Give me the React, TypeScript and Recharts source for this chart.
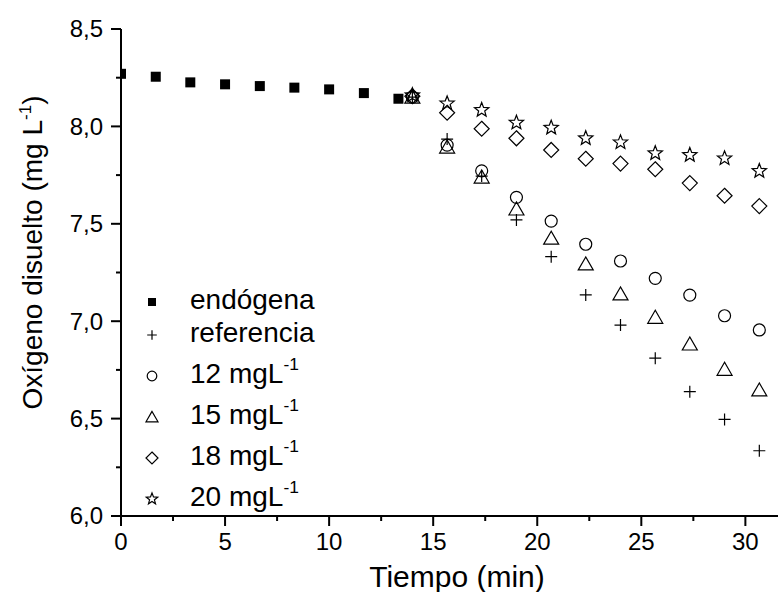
import React from "react";
import { ScatterChart, Scatter, XAxis, YAxis, Legend } from "recharts";

const FONT = '"Liberation Sans", Arial, Helvetica, sans-serif';

// endogenous respiration, before dosing (min / mg L-1)
const tEndogena = [0, 1.67, 3.33, 5, 6.67, 8.33, 10, 11.67, 13.33];
const endogena = [8.27, 8.255, 8.226, 8.216, 8.207, 8.199, 8.19, 8.171, 8.142];

// after dosing
const tDosis = [14, 15.67, 17.33, 19, 20.67, 22.33, 24, 25.67, 27.33, 29, 30.67];
const referencia = [8.15, 7.935, 7.745, 7.52, 7.331, 7.135, 6.98, 6.81, 6.638, 6.496, 6.335];
const mg12 = [8.15, 7.904, 7.772, 7.636, 7.514, 7.395, 7.309, 7.22, 7.134, 7.028, 6.955];
const mg15 = [8.15, 7.894, 7.74, 7.576, 7.426, 7.294, 7.14, 7.02, 6.883, 6.753, 6.647];
const mg18 = [8.155, 8.07, 7.988, 7.939, 7.879, 7.834, 7.809, 7.78, 7.709, 7.644, 7.591];
const mg20 = [8.16, 8.118, 8.084, 8.019, 7.993, 7.939, 7.918, 7.862, 7.853, 7.836, 7.771];

const seriesNames = ["endógena", "referencia", "12 mgL", "15 mgL", "18 mgL", "20 mgL"];
const seriesKinds = ["square", "plus", "circle", "triangle", "diamond", "star"];

const xTicks = [0, 2.5, 5, 7.5, 10, 12.5, 15, 17.5, 20, 22.5, 25, 27.5, 30];
const yTicks = [6, 6.25, 6.5, 6.75, 7, 7.25, 7.5, 7.75, 8, 8.25, 8.5];
const topTicks = [3.2, 6.4, 9.6, 12.8, 16, 19.2, 22.4, 25.6, 28.8];

const zip = (xs: number[], ys: number[]) => xs.map((x, i) => ({ x, y: ys[i] }));

const seriesData = [
  zip(tEndogena, endogena),
  zip(tDosis, referencia),
  zip(tDosis, mg12),
  zip(tDosis, mg15),
  zip(tDosis, mg18),
  zip(tDosis, mg20),
];

function Marker({ kind, cx, cy, s = 1 }: { kind: string; cx: number; cy: number; s?: number }) {
  const st = { fill: "none", stroke: "#000", strokeWidth: 1.2 };
  switch (kind) {
    case "square":
      return <rect x={cx - 5 * s} y={cy - 5 * s} width={10 * s} height={10 * s} fill="#000" />;
    case "plus":
      return (
        <path
          d={`M${cx - 6 * s},${cy}H${cx + 6 * s}M${cx},${cy - 6 * s}V${cy + 6 * s}`}
          {...st}
        />
      );
    case "circle":
      return <circle cx={cx} cy={cy} r={6 * s} {...st} />;
    case "triangle":
      return (
        <polygon
          points={`${cx},${cy - 7 * s} ${cx - 7.5 * s},${cy + 6 * s} ${cx + 7.5 * s},${cy + 6 * s}`}
          {...st}
        />
      );
    case "diamond":
      return (
        <polygon
          points={`${cx},${cy - 7.5 * s} ${cx + 7.5 * s},${cy} ${cx},${cy + 7.5 * s} ${cx - 7.5 * s},${cy}`}
          {...st}
        />
      );
    default: {
      // 5-point outline star
      const pts: string[] = [];
      for (let i = 0; i < 10; i++) {
        const r = (i % 2 === 0 ? 7.5 : 3.2) * s;
        const a = -Math.PI / 2 + (i * Math.PI) / 5;
        pts.push(`${cx + r * Math.cos(a)},${cy + r * Math.sin(a)}`);
      }
      return <polygon points={pts.join(" ")} {...st} />;
    }
  }
}

const fmtComma = (v: number) => v.toFixed(1).replace(".", ",");

function YTick(props: any) {
  const { x, y, payload } = props;
  const v = payload.value as number;
  const major = Math.abs(v * 2 - Math.round(v * 2)) < 1e-6;
  return (
    <g>
      <line x1={x - (major ? 10 : 5)} x2={x} y1={y} y2={y} stroke="#000" strokeWidth={2} />
      {major ? (
        <text x={x - 18} y={y} dy="0.35em" textAnchor="end" fontSize={24} fontFamily={FONT} fill="#000">
          {fmtComma(v)}
        </text>
      ) : null}
    </g>
  );
}

function XTick(props: any) {
  const { x, y, payload } = props;
  const v = payload.value as number;
  const major = v % 5 === 0;
  return (
    <g>
      <line x1={x} x2={x} y1={y} y2={y + (major ? 10 : 5)} stroke="#000" strokeWidth={2} />
      {major ? (
        <text x={x} y={y + 34} textAnchor="middle" fontSize={24} fontFamily={FONT} fill="#000">
          {v}
        </text>
      ) : null}
    </g>
  );
}

function YTitle(props: any) {
  const vb = props.viewBox || { x: 0, y: 29, width: 121, height: 487 };
  const x = vb.x + 42;
  const y = vb.y + vb.height / 2 - 20;
  return (
    <text
      x={x}
      y={y}
      transform={`rotate(-90 ${x} ${y})`}
      textAnchor="middle"
      fontSize={28}
      fontFamily={FONT}
      fill="#000"
    >
      Oxígeno disuelto (mg L
      <tspan dy={-11} fontSize={17}>
        -1
      </tspan>
      <tspan dy={11}>)</tspan>
    </text>
  );
}

function LegendBox() {
  return (
    <div style={{ fontFamily: FONT, fontSize: 28, color: "#000" }}>
      {seriesNames.map((name, i) => {
        const sup = name.endsWith("mgL");
        return (
          <div key={name} style={{ position: "relative", height: sup ? 41 : 33 }}>
            <svg width={28} height={28} style={{ position: "absolute", left: 0, bottom: 2 }}>
              <Marker kind={seriesKinds[i]} cx={14} cy={14} s={0.8} />
            </svg>
            <span style={{ position: "absolute", left: 52, bottom: 4, lineHeight: 1, whiteSpace: "nowrap" }}>
              {name}
              {sup ? <span style={{ fontSize: "0.62em", verticalAlign: "0.75em" }}>-1</span> : null}
            </span>
          </div>
        );
      })}
    </div>
  );
}

export default function App() {
  return (
    <div
      style={{
        position: "absolute",
        left: 0,
        top: 0,
        width: 778,
        height: 592,
        overflow: "hidden",
        background: "#fff",
      }}
    >
      <ScatterChart width={800} height={592} margin={{ top: 29, right: 13, bottom: 0, left: 0 }}>
        <XAxis
          dataKey="x"
          type="number"
          domain={[0, 32]}
          ticks={xTicks}
          allowDataOverflow
          height={76}
          tickSize={0}
          tickMargin={0}
          tickLine={false}
          axisLine={{ stroke: "#000", strokeWidth: 2 }}
          tick={<XTick />}
          label={{
            value: "Tiempo (min)",
            position: "insideBottom",
            offset: 5,
            dx: 3,
            fill: "#000",
            fontSize: 30,
            fontFamily: FONT,
          }}
        />
        <XAxis
          xAxisId="top"
          orientation="top"
          type="number"
          domain={[0, 32]}
          ticks={topTicks}
          allowDataOverflow
          height={0}
          mirror
          tickSize={3}
          tickFormatter={() => ""}
          tickLine={{ stroke: "#888" }}
          axisLine={{ stroke: "#000", strokeWidth: 2 }}
        />
        <YAxis
          dataKey="y"
          type="number"
          domain={[6, 8.5]}
          ticks={yTicks}
          allowDataOverflow
          width={121}
          tickSize={0}
          tickMargin={0}
          tickLine={false}
          axisLine={{ stroke: "#000", strokeWidth: 2 }}
          tick={<YTick />}
          label={{ content: (p: any) => <YTitle {...p} /> }}
        />
        <Legend
          layout="vertical"
          align="center"
          verticalAlign="middle"
          content={() => <LegendBox />}
          wrapperStyle={{ left: 138, top: 285, width: 260 }}
        />
        {seriesData.map((data, i) => (
          <Scatter
            key={seriesNames[i]}
            name={seriesNames[i]}
            data={data}
            isAnimationActive={false}
            shape={(p: any) => <Marker kind={seriesKinds[i]} cx={p.cx} cy={p.cy} />}
          />
        ))}
      </ScatterChart>
    </div>
  );
}
